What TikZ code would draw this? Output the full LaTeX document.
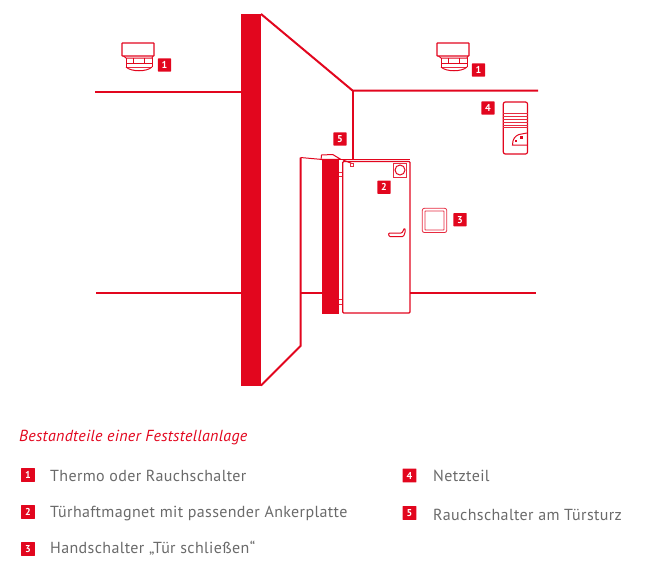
\documentclass[tikz,border=0pt]{standalone}
\usepackage{fontspec}
\setmainfont{PT Sans}
\definecolor{brand}{HTML}{E2061E}
\definecolor{txtgray}{HTML}{6A6A6A}
\tikzset{
  wall/.style={draw=brand,line width=2pt,line join=miter},
  thin/.style={draw=brand,line width=1pt},
  fine/.style={draw=brand!85,line width=.8pt},
  solidred/.style={fill=brand,draw=none},
  badge/.style={fill=brand,text=white,font=\fontsize{10}{10}\selectfont\bfseries,minimum width=13.2pt,minimum height=13.2pt,inner sep=0pt,rounded corners=.5pt},
  lbadge/.style={badge,minimum width=13.8pt,minimum height=13.8pt},
  legend/.style={text=txtgray,anchor=base west,inner sep=0pt,font=\fontsize{16}{16}\addfontfeature{LetterSpace=2.3}},
  sensor/.pic={
    \draw[thin,line width=1.2pt,rounded corners=.5pt] (0,0) rectangle (32,13);
    \draw[thin] (1.5,13) -- (4,15) -- (30,15) -- (31,13);
    \draw[thin] (4,15) -- (4,24) (30,15) -- (30,24);
    \draw[thin] (4,20.5) -- (30,20.5) (11,15) -- (11,20.5) (22,15) -- (22,20.5);
    \draw[fine] (4,24) -- (30,24);
    \draw[thin] (4,24) .. controls (9,29) and (25,29) .. (30,24);
  }
}
\begin{document}
\begin{tikzpicture}[x=1pt,y=-1pt]
\useasboundingbox (0,0) rectangle (655,573);
% walls
\draw[wall] (95,91.5) -- (241,91.5);
\draw[wall] (96,293) -- (241,293);
\draw[wall] (300,293) -- (322,293);
\draw[wall] (410,293) -- (536,293);
\draw[wall] (261,14) -- (352.5,90.5) -- (538,90.5);
\draw[wall] (352.5,90.5) -- (352.5,160);
\draw[wall] (300.5,157.5) -- (300.5,346) -- (261,385.5);
\draw[solidred] (241,14) rectangle (261,386);
% open leaf
\draw[solidred] (322.3,160) rectangle (339.2,313.5);
\draw[thin] (300.5,157.5) -- (322.3,159.5);
\draw[thin] (321,160) -- (321.5,155) -- (332.7,154.5) -- (340.7,159.3) -- (322,159.3);
\draw[fine] (339.2,172) -- (342,172) (339.2,176.5) -- (342,176.5);
\draw[fine] (339.2,299) -- (342,299) (339.2,304) -- (342,304);
% door
\draw[thin,line width=1.2pt,rounded corners=1pt] (342.7,161.5) rectangle (410,313);
\draw[thin] (340.7,159.7) -- (410,159.7);
\draw[thin] (343,160) -- (351.5,163.3);
\draw[fine] (350.2,163.2) rectangle (353.2,166.2);
\draw[fine] (393.3,163.3) rectangle (406.7,177.3);
\draw[thin] (400,170) circle (5);
% handle
\draw[thin,rounded corners=1pt] (388.5,233) -- (402,233) -- (404.5,228) -- (405.5,231) -- (403.5,236.5) -- (389,236.5) -- cycle;
% hand switch
\draw[fine,rounded corners=2pt] (422.3,208.3) rectangle (446.7,232.5);
\draw[fine,rounded corners=.5pt] (425,211) rectangle (444,230);
% sensors
\pic at (122,43) {sensor};
\pic at (437,43) {sensor};
% power supply
\draw[thin,line width=1.2pt,rounded corners=2pt] (503.3,102) rectangle (527.5,154);
\foreach \yy in {113,116,119,122,125,127.5} \draw[fine] (503.3,\yy) -- (527.5,\yy);
\draw[thin] (527,133) -- (519,134.5) .. controls (515,136) and (512.5,139) .. (512.5,145) -- (527,145);
\draw[solidred] (520,135.5) rectangle (523,138.5);
\draw[solidred] (514.5,139.5) rectangle (516.5,141.5);
% diagram badges
\node[badge] (b1a) at (164.5,65) {1};
\node[badge] (b1b) at (478.5,70) {1};
\node[badge] (b4) at (488,108) {4};
\node[badge] (b5) at (340,139) {5};
\node[badge] (b2) at (384,187.2) {2};
\node[badge] (b3) at (460,219.7) {3};
% legend
\node[anchor=base west,inner sep=0pt,text=brand,font=\fontsize{16}{16}\itshape\addfontfeature{LetterSpace=1.8}] (title) at (19,441.5) {Bestandteile einer Feststellanlage};
\node[lbadge] (l1) at (28,475) {1};
\node[legend] (t1) at (50,481.5) {Thermo oder Rauchschalter};
\node[lbadge] (l2) at (28,512) {2};
\node[legend] (t2) at (50,517.5) {Türhaftmagnet mit passender Ankerplatte};
\node[lbadge] (l3) at (28,549) {3};
\node[legend] (t3) at (50,553) {Handschalter „Tür schließen“};
\node[lbadge] (l4) at (409.5,475.5) {4};
\node[legend] (t4) at (433,481.5) {Netzteil};
\node[lbadge] (l5) at (409.5,513) {5};
\node[legend] (t5) at (433,520) {Rauchschalter am Türsturz};
\end{tikzpicture}
\end{document}
